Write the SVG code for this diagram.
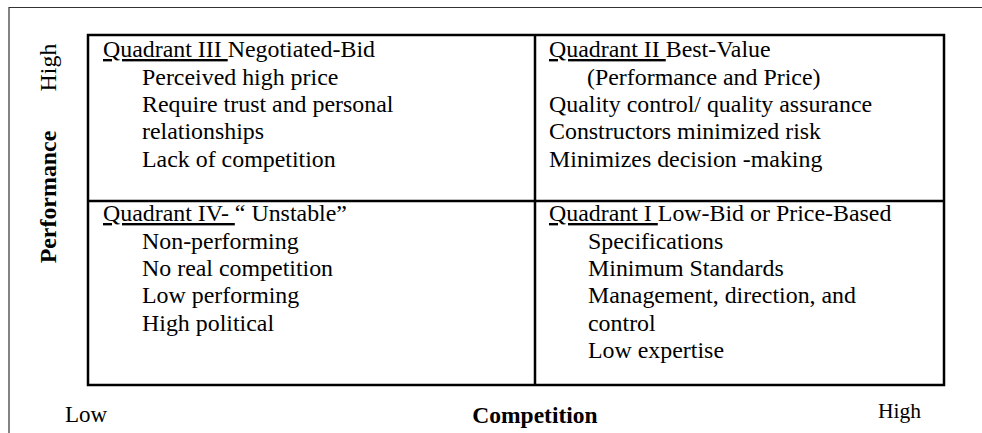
<svg xmlns="http://www.w3.org/2000/svg" width="982" height="433" viewBox="0 0 982 433">
<style>
.t{font-family:"Liberation Serif","Times New Roman",serif;font-size:23.9px;fill:#000}
.b{font-weight:bold}
.u{text-decoration:underline}
.frame{fill:none;stroke:#333;stroke-width:1.2}
.grid{fill:none;stroke:#000;stroke-width:2.5}
</style>
<rect width="982" height="433" fill="#fff"/>
<g id="frame">
<path class="frame" d="M9,433 V7.5 H982"/>
</g>
<g id="grid">
<rect class="grid" x="88" y="35" width="856" height="350"/>
<line class="grid" x1="535" y1="35" x2="535" y2="385"/>
<line class="grid" x1="88" y1="201" x2="944" y2="201"/>
</g>
<g id="q3">
<text class="t" x="103" y="57"><tspan class="u">Quadrant III </tspan>Negotiated-Bid</text>
<text class="t" x="142" y="84.5">Perceived high price</text>
<text class="t" x="142" y="112">Require trust and personal</text>
<text class="t" x="142" y="139">relationships</text>
<text class="t" x="142" y="166.5">Lack of competition</text>
</g>
<g id="q2">
<text class="t" x="549" y="57"><tspan class="u">Quadrant II </tspan>Best-Value</text>
<text class="t" x="587" y="84.5">(Performance and Price)</text>
<text class="t" x="549" y="112">Quality control/ quality assurance</text>
<text class="t" x="549" y="139">Constructors minimized risk</text>
<text class="t" x="549" y="166.5">Minimizes decision -making</text>
</g>
<g id="q4">
<text class="t" x="103" y="221"><tspan class="u">Quadrant IV- </tspan>“ Unstable”</text>
<text class="t" x="142" y="248.5">Non-performing</text>
<text class="t" x="142" y="276">No real competition</text>
<text class="t" x="142" y="303">Low performing</text>
<text class="t" x="142" y="330.5">High political</text>
</g>
<g id="q1">
<text class="t" x="549" y="221"><tspan class="u">Quadrant I </tspan>Low-Bid or Price-Based</text>
<text class="t" x="588" y="248.5">Specifications</text>
<text class="t" x="588" y="276">Minimum Standards</text>
<text class="t" x="588" y="303">Management, direction, and</text>
<text class="t" x="588" y="330.5">control</text>
<text class="t" x="588" y="358">Low expertise</text>
</g>
<g id="axis-y">
<text class="t" transform="translate(56,67.5) rotate(-90)" text-anchor="middle">High</text>
<text class="t b" transform="translate(56,197) rotate(-90)" text-anchor="middle">Performance</text>
</g>
<g id="axis-x">
<text class="t" x="65" y="422" style="font-size:23px">Low</text>
<text class="t b" x="535" y="423" text-anchor="middle" style="font-size:23.5px">Competition</text>
<text class="t" x="878" y="418" style="font-size:21.5px">High</text>
</g>
</svg>
